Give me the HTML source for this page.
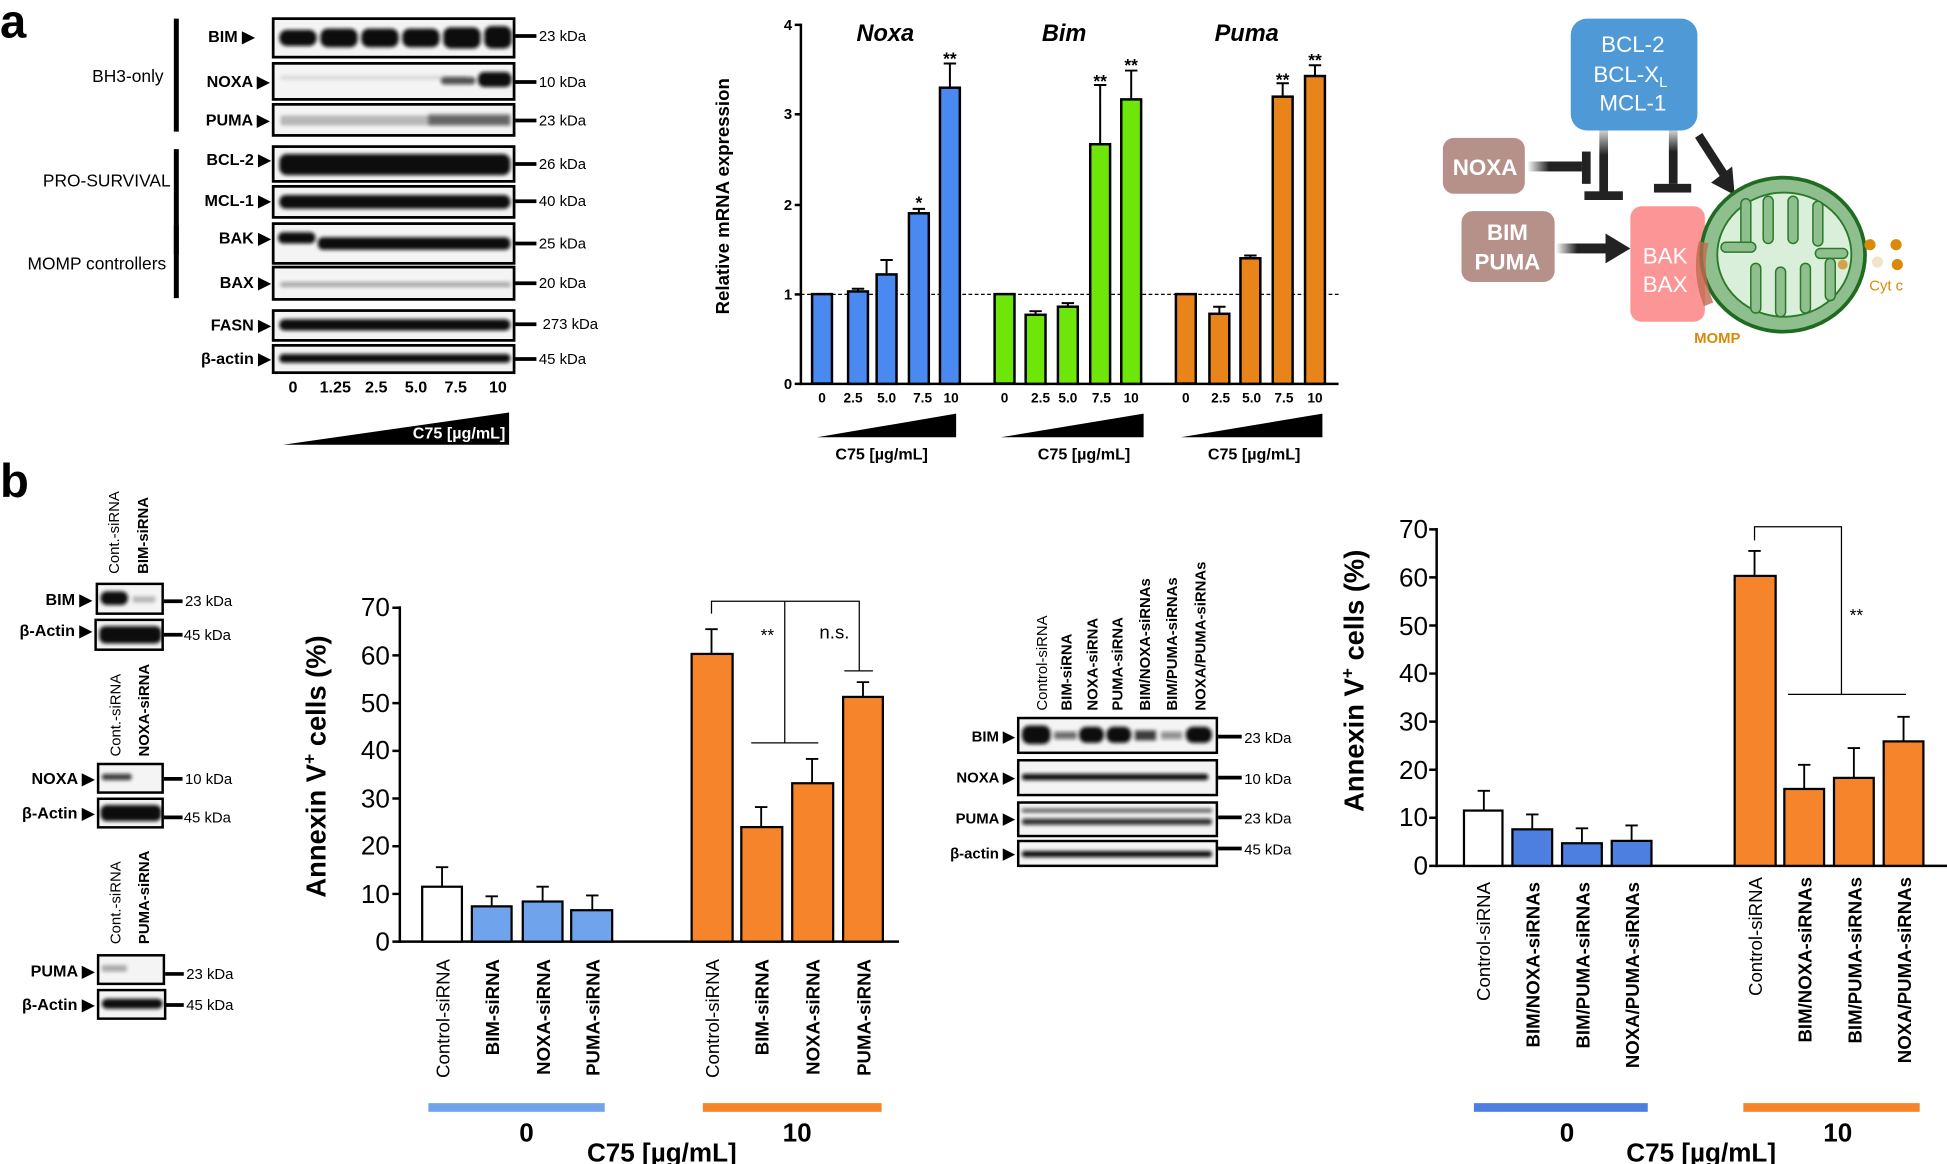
<!DOCTYPE html>
<html><head><meta charset="utf-8"><style>
html,body{margin:0;padding:0;background:#fff;}
svg{display:block;}
text{font-family:"Liberation Sans",Arial,sans-serif;}
.n{font-family:"Liberation Sans Narrow","Liberation Sans",sans-serif;}
.b{font-weight:bold;}
</style></head><body>
<svg width="1947" height="1164" viewBox="0 0 1568 937" preserveAspectRatio="none" xmlns="http://www.w3.org/2000/svg">
<defs>
<filter id="bl" x="-20%" y="-50%" width="140%" height="200%"><feGaussianBlur stdDeviation="1.6"/></filter>
<linearGradient id="fadeH" x1="0" x2="1"><stop offset="0" stop-color="#222" stop-opacity="0"/><stop offset="0.4" stop-color="#222"/></linearGradient>
<linearGradient id="fadeV" x1="0" y1="0" x2="0" y2="1"><stop offset="0" stop-color="#222" stop-opacity="0.2"/><stop offset="0.4" stop-color="#222"/></linearGradient>
</defs>
<rect width="1568" height="937" fill="#fff"/>

<!-- ===== Panel a: blot ===== -->
<text x="0" y="30" font-size="38" class="b">a</text>
<g stroke="#000" stroke-width="4">
<line x1="142" y1="15" x2="142" y2="106"/><line x1="142" y1="120" x2="142" y2="205"/><line x1="142" y1="181" x2="142" y2="240"/>
</g>
<text x="103" y="66" font-size="14" text-anchor="middle">BH3-only</text>
<text x="86" y="150" font-size="14" text-anchor="middle">PRO-SURVIVAL</text>
<text x="78" y="217" font-size="14" text-anchor="middle">MOMP controllers</text>
<g font-size="13" class="b" text-anchor="end">
<text x="205" y="34">BIM ▶</text><text x="217" y="70">NOXA ▶</text><text x="217" y="101">PUMA ▶</text>
<text x="218" y="133">BCL-2 ▶</text><text x="218" y="166">MCL-1 ▶</text><text x="218" y="196">BAK ▶</text>
<text x="218" y="232">BAX ▶</text><text x="218" y="266">FASN ▶</text><text x="218" y="293">β-actin ▶</text>
</g>
<g fill="#f4f4f4" stroke="#000" stroke-width="2.2">
<rect x="220" y="15" width="194" height="31"/><rect x="220" y="51" width="194" height="29"/><rect x="220" y="84" width="194" height="25"/>
<rect x="220" y="118" width="194" height="28"/><rect x="220" y="150" width="194" height="25"/><rect x="220" y="180" width="194" height="32"/>
<rect x="220" y="215" width="194" height="26"/><rect x="220" y="250" width="194" height="24"/><rect x="220" y="278" width="194" height="22"/>
</g>
<g filter="url(#bl)" fill="#111">
<rect x="225" y="24" width="30" height="13" rx="6"/><rect x="258" y="23" width="30" height="15" rx="6"/><rect x="291" y="23" width="30" height="15" rx="6"/><rect x="324" y="23" width="30" height="15" rx="6"/><rect x="357" y="22" width="30" height="17" rx="6"/><rect x="390" y="21" width="22" height="18" rx="6"/>
<rect x="355" y="62" width="28" height="6" rx="3" opacity=".7"/><rect x="385" y="58" width="27" height="12" rx="5"/>
<rect x="226" y="61" width="150" height="3" opacity=".12"/>
<rect x="226" y="93" width="185" height="8" opacity=".25"/><rect x="345" y="92" width="66" height="9" opacity=".5"/>
<rect x="225" y="124" width="186" height="17" rx="6"/>
<rect x="225" y="157" width="186" height="11" rx="5"/>
<rect x="224" y="187" width="30" height="9" rx="4"/><rect x="256" y="191" width="155" height="10" rx="4"/>
<rect x="226" y="227" width="185" height="4" opacity=".35"/>
<rect x="225" y="257" width="186" height="9" rx="4"/>
<rect x="225" y="285" width="186" height="7" rx="3"/>
</g>
<g stroke="#000" stroke-width="3"><line x1="415" y1="29" x2="432" y2="29"/><line x1="415" y1="66" x2="432" y2="66"/><line x1="415" y1="97" x2="432" y2="97"/><line x1="415" y1="132" x2="432" y2="132"/><line x1="415" y1="162" x2="432" y2="162"/><line x1="415" y1="196" x2="432" y2="196"/><line x1="415" y1="228" x2="432" y2="228"/><line x1="415" y1="261" x2="432" y2="261"/><line x1="415" y1="289" x2="432" y2="289"/></g>
<g font-size="12"><text x="434" y="33">23 kDa</text><text x="434" y="70">10 kDa</text><text x="434" y="101">23 kDa</text><text x="434" y="136">26 kDa</text><text x="434" y="166">40 kDa</text><text x="434" y="200">25 kDa</text><text x="434" y="232">20 kDa</text><text x="437" y="265">273 kDa</text><text x="434" y="293">45 kDa</text></g>
<g font-size="13" class="b" text-anchor="middle"><text x="236" y="316">0</text><text x="270" y="316">1.25</text><text x="303" y="316">2.5</text><text x="335" y="316">5.0</text><text x="367" y="316">7.5</text><text x="401" y="316">10</text></g>
<polygon points="228,358 410,332 410,358" fill="#000"/>
<text x="407" y="353" font-size="13" class="b" fill="#fff" text-anchor="end">C75 [µg/mL]</text>

<!-- ===== Panel a: mRNA chart ===== -->
<text transform="translate(587,158) rotate(-90)" font-size="15" class="b" text-anchor="middle">Relative mRNA expression</text>
<g font-size="12" class="b" text-anchor="end"><text x="638" y="313">0</text><text x="638" y="241">1</text><text x="638" y="169">2</text><text x="638" y="96">3</text><text x="638" y="24">4</text></g>
<g stroke="#000" stroke-width="2"><line x1="645" y1="19" x2="645" y2="310"/><line x1="644" y1="309" x2="1078" y2="309"/>
<line x1="640" y1="309" x2="645" y2="309"/><line x1="640" y1="237" x2="645" y2="237"/><line x1="640" y1="165" x2="645" y2="165"/><line x1="640" y1="92" x2="645" y2="92"/><line x1="640" y1="20" x2="645" y2="20"/></g>
<line x1="645" y1="237" x2="1078" y2="237" stroke="#000" stroke-width="1" stroke-dasharray="3,2"/>
<g font-size="19" class="b" font-style="italic" text-anchor="middle"><text x="713" y="33">Noxa</text><text x="857" y="33">Bim</text><text x="1004" y="33">Puma</text></g>
<g stroke="#000" stroke-width="2">
<g fill="#4a8af0"><rect x="654" y="236.75" width="16" height="72"/><rect x="683" y="234.6" width="16" height="74.4"/><rect x="706" y="220.9" width="16" height="88.1"/><rect x="732" y="171.7" width="16" height="137.3"/><rect x="757" y="70.6" width="16" height="238.4"/></g>
<g fill="#6ee60a"><rect x="801" y="236.75" width="16" height="72"/><rect x="826" y="253.4" width="16" height="55.6"/><rect x="852" y="246.9" width="16" height="62.1"/><rect x="878" y="116.1" width="16" height="192.9"/><rect x="903" y="80" width="16" height="229"/></g>
<g fill="#e8841a"><rect x="947" y="236.75" width="16" height="72"/><rect x="974" y="252.6" width="16" height="56.4"/><rect x="999" y="207.9" width="16" height="101.1"/><rect x="1025" y="77.8" width="16" height="231.2"/><rect x="1051" y="61.2" width="16" height="247.8"/></g>
<path d="M691 234.6V232.4M686 232.4h10M714 220.9V209.3M709 209.3h10M740 171.7V168.1M735 168.1h10M765 70.6V51.1M760 51.1h10
M834 253.4V250.5M829 250.5h10M860 246.9V244M855 244h10M886 116.1V68.4M881 68.4h10M911 80V56.8M906 56.8h10
M982 252.6V246.9M977 246.9h10M1007 207.9V205.7M1002 205.7h10M1033 77.8V67M1028 67h10M1059 61.2V52.5M1054 52.5h10" fill="none" stroke-width="1.6"/>
</g>
<g font-size="14" class="b" text-anchor="middle"><text x="740" y="168">*</text><text x="765" y="52">**</text><text x="886" y="70">**</text><text x="911" y="57">**</text><text x="1033" y="69">**</text><text x="1059" y="53">**</text></g>
<g font-size="11" class="b" text-anchor="middle"><text x="662" y="324">0</text><text x="687" y="324">2.5</text><text x="714" y="324">5.0</text><text x="743" y="324">7.5</text><text x="766" y="324">10</text>
<text x="809" y="324">0</text><text x="838" y="324">2.5</text><text x="860" y="324">5.0</text><text x="887" y="324">7.5</text><text x="911" y="324">10</text>
<text x="955" y="324">0</text><text x="983" y="324">2.5</text><text x="1008" y="324">5.0</text><text x="1034" y="324">7.5</text><text x="1059" y="324">10</text></g>
<polygon points="658,352 770,333 770,352"/><polygon points="806,352 921,333 921,352"/><polygon points="951,352 1065,333 1065,352"/>
<g font-size="13" class="b" text-anchor="middle"><text x="710" y="370">C75 [µg/mL]</text><text x="873" y="370">C75 [µg/mL]</text><text x="1010" y="370">C75 [µg/mL]</text></g>

<!-- ===== Diagram ===== -->
<rect x="1265" y="15" width="102" height="90" rx="13" fill="#4f9ad6"/>
<g fill="#fff" font-size="18" text-anchor="middle"><text x="1315" y="42">BCL-2</text><text x="1313" y="66">BCL-X<tspan font-size="12" dy="4">L</tspan></text><text x="1315" y="89">MCL-1</text></g>
<rect x="1162" y="111" width="66" height="45" rx="9" fill="#b5918a"/>
<text x="1196" y="141" fill="#fff" font-size="18" class="b" text-anchor="middle">NOXA</text>
<rect x="1177" y="170" width="75" height="57" rx="9" fill="#b5918a"/>
<g fill="#fff" font-size="18" class="b" text-anchor="middle"><text x="1214" y="193">BIM</text><text x="1214" y="217">PUMA</text></g>
<rect x="1230" y="130" width="44" height="8" fill="url(#fadeH)"/><rect x="1274" y="122" width="7" height="26" fill="#222"/>
<rect x="1288" y="105" width="7" height="50" fill="url(#fadeV)"/><rect x="1276" y="154" width="31" height="7" fill="#222"/>
<rect x="1344" y="105" width="7" height="43" fill="url(#fadeV)"/><rect x="1332" y="148" width="30" height="7" fill="#222"/>
<line x1="1368" y1="109" x2="1388" y2="140" stroke="#222" stroke-width="7"/><polygon points="1378,147 1397,157 1395,134" fill="#222"/>
<rect x="1253" y="196" width="43" height="8" fill="url(#fadeH)"/><polygon points="1293,188 1313,200 1293,212" fill="#222"/>
<rect x="1313" y="166" width="60" height="93" rx="9" fill="#fc9696"/>
<g fill="#fff" font-size="18" text-anchor="middle"><text x="1341" y="212">BAK</text><text x="1341" y="235">BAX</text></g>
<ellipse cx="1436" cy="205" rx="66" ry="62" fill="#8fbf8f" stroke="#1f6b1f" stroke-width="3"/>
<path d="M1372,195 Q1366,220 1376,245" stroke="#c06a50" stroke-width="8" fill="none" opacity=".8"/>
<ellipse cx="1437" cy="205" rx="54" ry="50" fill="#d9efd9" stroke="#2a7a2a" stroke-width="1.5"/>
<g fill="#8fbf8f" stroke="#2a7a2a" stroke-width="1.2">
<rect x="1402" y="160" width="8" height="40" rx="4"/><rect x="1420" y="158" width="8" height="38" rx="4"/><rect x="1440" y="158" width="8" height="38" rx="4"/><rect x="1460" y="162" width="8" height="36" rx="4"/>
<rect x="1410" y="212" width="8" height="40" rx="4"/><rect x="1430" y="215" width="8" height="40" rx="4"/><rect x="1450" y="212" width="8" height="40" rx="4"/><rect x="1470" y="208" width="8" height="34" rx="4"/>
<rect x="1386" y="195" width="28" height="8" rx="4"/><rect x="1462" y="200" width="26" height="8" rx="4"/>
</g>
<circle cx="1484" cy="213" r="4" fill="#d4a24a"/>
<g fill="#d98a0a"><circle cx="1506" cy="197" r="4.5"/><circle cx="1527" cy="197" r="4.5"/><circle cx="1528" cy="213" r="4.5"/></g>
<circle cx="1512" cy="211" r="4.5" fill="#f3e4c8"/>
<text x="1519" y="234" font-size="12" fill="#d98a0a" text-anchor="middle">Cyt c</text>
<text x="1383" y="276" font-size="12" fill="#d98a0a" class="b" text-anchor="middle">MOMP</text>

<!-- ===== Panel b: small blots ===== -->
<text x="0" y="400" font-size="38" class="b">b</text>
<g font-size="12">
<text transform="translate(96,462) rotate(-90)">Cont.-siRNA</text><text transform="translate(119,462) rotate(-90)" class="b">BIM-siRNA</text>
<text transform="translate(97,609) rotate(-90)">Cont.-siRNA</text><text transform="translate(120,609) rotate(-90)" class="b">NOXA-siRNA</text>
<text transform="translate(97,760) rotate(-90)">Cont.-siRNA</text><text transform="translate(120,760) rotate(-90)" class="b">PUMA-siRNA</text>
</g>
<g font-size="13" class="b" text-anchor="end">
<text x="74" y="487">BIM ▶</text><text x="74" y="512">β-Actin ▶</text>
<text x="76" y="631">NOXA ▶</text><text x="76" y="659">β-Actin ▶</text>
<text x="76" y="786">PUMA ▶</text><text x="76" y="813">β-Actin ▶</text>
</g>
<g fill="#f4f4f4" stroke="#000" stroke-width="2">
<rect x="78" y="470" width="53" height="24"/><rect x="77" y="499" width="54" height="24"/>
<rect x="79" y="615" width="52" height="23"/><rect x="79" y="643" width="52" height="23"/>
<rect x="79" y="769" width="53" height="23"/><rect x="79" y="797" width="54" height="23"/>
</g>
<g filter="url(#bl)" fill="#111">
<rect x="81" y="476" width="22" height="11" rx="5"/><rect x="107" y="480" width="18" height="5" opacity=".25"/>
<rect x="80" y="504" width="50" height="14" rx="5"/>
<rect x="82" y="623" width="24" height="5" rx="2" opacity=".8"/>
<rect x="81" y="648" width="49" height="13" rx="5"/>
<rect x="82" y="777" width="20" height="5" opacity=".35"/>
<rect x="82" y="804" width="49" height="8" rx="4"/>
</g>
<g stroke="#000" stroke-width="3"><line x1="132" y1="484" x2="147" y2="484"/><line x1="132" y1="511" x2="147" y2="511"/><line x1="132" y1="627" x2="147" y2="627"/><line x1="132" y1="658" x2="147" y2="658"/><line x1="133" y1="784" x2="148" y2="784"/><line x1="133" y1="809" x2="148" y2="809"/></g>
<g font-size="12" class="n"><text x="149" y="488">23 kDa</text><text x="148" y="515">45 kDa</text><text x="149" y="631">10 kDa</text><text x="148" y="662">45 kDa</text><text x="150" y="788">23 kDa</text><text x="150" y="813">45 kDa</text></g>

<!-- ===== Chart b1 ===== -->
<text transform="translate(262,617) rotate(-90)" font-size="22" class="b" text-anchor="middle">Annexin V<tspan font-size="14" dy="-8">+</tspan><tspan dy="8"> cells (%)</tspan></text>
<g font-size="21" class="n" text-anchor="end"><text x="314" y="765">0</text><text x="314" y="727">10</text><text x="314" y="688">20</text><text x="314" y="650">30</text><text x="314" y="611">40</text><text x="314" y="573">50</text><text x="314" y="535">60</text><text x="314" y="496">70</text></g>
<g stroke="#000" stroke-width="2"><line x1="322" y1="488" x2="322" y2="759"/><line x1="321" y1="758" x2="724" y2="758"/>
<path d="M316 758h6M316 719.6h6M316 681.2h6M316 642.8h6M316 604.4h6M316 566h6M316 527.6h6M316 489.2h6"/></g>
<g stroke="#000" stroke-width="1.8">
<rect x="340" y="713.8" width="32" height="44.2" fill="#fff"/>
<g fill="#6fa3ec"><rect x="380" y="729.6" width="32" height="28.4"/><rect x="421" y="725.7" width="32" height="32.3"/><rect x="460" y="732.7" width="33" height="25.3"/></g>
<g fill="#f5842b"><rect x="557" y="526.4" width="33" height="231.6"/><rect x="597" y="665.8" width="33" height="92.2"/><rect x="638" y="630.5" width="33" height="127.5"/><rect x="679" y="561" width="32" height="197"/></g>
<path d="M356 713.8V698.1M351 698.1h10M396 729.6V721.5M391 721.5h10M437 725.7V713.8M432 713.8h10M477 732.7V720.8M472 720.8h10
M573 526.4V506.5M568 506.5h10M613 665.8V649.7M608 649.7h10M654 630.5V610.9M649 610.9h10M695 561V549.1M690 549.1h10" fill="none" stroke-width="1.5"/>
</g>
<path d="M573 494V484H692V540M680 540h23M632 484V598M605 598h54" fill="none" stroke="#000" stroke-width="1"/>
<text x="618" y="516" font-size="14" text-anchor="middle">**</text><text x="672" y="514" font-size="15" class="n" text-anchor="middle">n.s.</text>
<g font-size="15" text-anchor="end">
<text transform="translate(362,772) rotate(-90)">Control-siRNA</text>
<text transform="translate(402,772) rotate(-90)" class="b">BIM-siRNA</text>
<text transform="translate(443,772) rotate(-90)" class="b">NOXA-siRNA</text>
<text transform="translate(483,772) rotate(-90)" class="b">PUMA-siRNA</text>
<text transform="translate(579,772) rotate(-90)">Control-siRNA</text>
<text transform="translate(619,772) rotate(-90)" class="b">BIM-siRNA</text>
<text transform="translate(660,772) rotate(-90)" class="b">NOXA-siRNA</text>
<text transform="translate(701,772) rotate(-90)" class="b">PUMA-siRNA</text>
</g>
<rect x="345" y="888" width="142" height="7" fill="#6fa3ec"/><rect x="566" y="888" width="144" height="7" fill="#f5842b"/>
<g font-size="21" class="b n" text-anchor="middle"><text x="424" y="919">0</text><text x="642" y="919">10</text><text x="533" y="935">C75 [µg/mL]</text></g>

<!-- ===== middle blot ===== -->
<g font-size="12" text-anchor="start">
<text transform="translate(843,572) rotate(-90)">Control-siRNA</text>
<text transform="translate(863,572) rotate(-90)" class="b">BIM-siRNA</text>
<text transform="translate(884,572) rotate(-90)" class="b">NOXA-siRNA</text>
<text transform="translate(904,572) rotate(-90)" class="b">PUMA-siRNA</text>
<text transform="translate(926,572) rotate(-90)" class="b">BIM/NOXA-siRNAs</text>
<text transform="translate(948,572) rotate(-90)" class="b">BIM/PUMA-siRNAs</text>
<text transform="translate(971,572) rotate(-90)" class="b">NOXA/PUMA-siRNAs</text>
</g>
<g font-size="12" class="b" text-anchor="end"><text x="817" y="597">BIM ▶</text><text x="817" y="630">NOXA ▶</text><text x="817" y="663">PUMA ▶</text><text x="817" y="691">β-actin ▶</text></g>
<g fill="#f4f4f4" stroke="#000" stroke-width="2"><rect x="820" y="578" width="160" height="28"/><rect x="820" y="612" width="160" height="28"/><rect x="820" y="646" width="160" height="27"/><rect x="820" y="677" width="160" height="20"/></g>
<g filter="url(#bl)" fill="#111">
<rect x="823" y="584" width="23" height="15" rx="6"/><rect x="849" y="589" width="18" height="6" opacity=".6"/><rect x="869" y="585" width="20" height="13" rx="6"/><rect x="891" y="585" width="20" height="13" rx="6"/><rect x="914" y="588" width="17" height="8" opacity=".8"/><rect x="935" y="589" width="17" height="6" opacity=".45"/><rect x="955" y="585" width="21" height="13" rx="6"/>
<rect x="823" y="623" width="150" height="5" rx="2"/>
<rect x="823" y="651" width="153" height="3" opacity=".7"/><rect x="823" y="659" width="153" height="5" rx="2" opacity=".85"/>
<rect x="823" y="685" width="153" height="5" rx="2"/>
</g>
<g stroke="#000" stroke-width="3"><line x1="981" y1="593" x2="1000" y2="593"/><line x1="981" y1="626" x2="1000" y2="626"/><line x1="981" y1="658" x2="1000" y2="658"/><line x1="981" y1="683" x2="1000" y2="683"/></g>
<g font-size="12" class="n"><text x="1002" y="598">23 kDa</text><text x="1002" y="631">10 kDa</text><text x="1002" y="663">23 kDa</text><text x="1002" y="688">45 kDa</text></g>

<!-- ===== Chart b2 ===== -->
<text transform="translate(1098,548) rotate(-90)" font-size="22" class="b" text-anchor="middle">Annexin V<tspan font-size="14" dy="-8">+</tspan><tspan dy="8"> cells (%)</tspan></text>
<g font-size="21" class="n" text-anchor="end"><text x="1150" y="704">0</text><text x="1150" y="665">10</text><text x="1150" y="627">20</text><text x="1150" y="588">30</text><text x="1150" y="549">40</text><text x="1150" y="511">50</text><text x="1150" y="472">60</text><text x="1150" y="433">70</text></g>
<g stroke="#000" stroke-width="2"><line x1="1157" y1="425" x2="1157" y2="698"/><line x1="1156" y1="697" x2="1568" y2="697"/>
<path d="M1151 697h6M1151 658.3h6M1151 619.6h6M1151 580.9h6M1151 542.2h6M1151 503.5h6M1151 464.8h6M1151 426.1h6"/></g>
<g stroke="#000" stroke-width="1.8">
<rect x="1179" y="652.5" width="31" height="44.5" fill="#fff"/>
<g fill="#4d7fe0"><rect x="1218" y="667.6" width="32" height="29.4"/><rect x="1258" y="678.8" width="32" height="18.2"/><rect x="1298" y="676.9" width="32" height="20.1"/></g>
<g fill="#f5842b"><rect x="1397" y="463.6" width="33" height="233.4"/><rect x="1437" y="635.1" width="32" height="61.9"/><rect x="1477" y="626.2" width="32" height="70.8"/><rect x="1517" y="596.8" width="32" height="100.2"/></g>
<path d="M1195 652.5V636.6M1190 636.6h10M1234 667.6V655.6M1229 655.6h10M1274 678.8V666.8M1269 666.8h10M1314 676.9V664.5M1309 664.5h10
M1413 463.6V443.5M1408 443.5h10M1453 635.1V615.7M1448 615.7h10M1493 626.2V602.2M1488 602.2h10M1533 596.8V577M1528 577h10" fill="none" stroke-width="1.5"/>
</g>
<path d="M1413 435V424H1483V559M1440 559h95" fill="none" stroke="#000" stroke-width="1"/>
<text x="1495" y="500" font-size="14" text-anchor="middle">**</text>
<g font-size="15" text-anchor="end">
<text transform="translate(1200,710) rotate(-90)">Control-siRNA</text>
<text transform="translate(1240,710) rotate(-90)" class="b">BIM/NOXA-siRNAs</text>
<text transform="translate(1280,710) rotate(-90)" class="b">BIM/PUMA-siRNAs</text>
<text transform="translate(1320,710) rotate(-90)" class="b">NOXA/PUMA-siRNAs</text>
<text transform="translate(1419,706) rotate(-90)">Control-siRNA</text>
<text transform="translate(1459,706) rotate(-90)" class="b">BIM/NOXA-siRNAs</text>
<text transform="translate(1499,706) rotate(-90)" class="b">BIM/PUMA-siRNAs</text>
<text transform="translate(1539,706) rotate(-90)" class="b">NOXA/PUMA-siRNAs</text>
</g>
<rect x="1187" y="888" width="140" height="7" fill="#4d7fe0"/><rect x="1404" y="888" width="142" height="7" fill="#f5842b"/>
<g font-size="21" class="b n" text-anchor="middle"><text x="1262" y="919">0</text><text x="1480" y="919">10</text><text x="1370" y="935">C75 [µg/mL]</text></g>
</svg>
</body></html>
